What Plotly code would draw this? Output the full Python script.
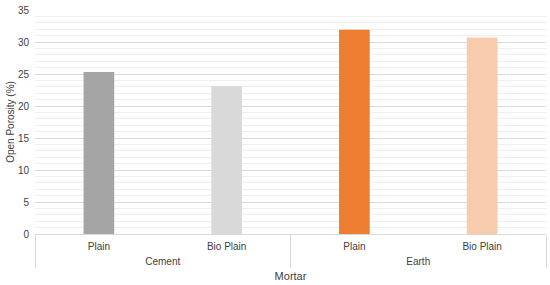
import plotly.graph_objects as go

mortar = ["Cement", "Cement", "Earth", "Earth"]
mix = ["Plain", "Bio Plain", "Plain", "Bio Plain"]
porosity = [25.3, 23.1, 31.9, 30.7]
colors = ["#a5a5a5", "#d9d9d9", "#ed7d31", "#f8cbad"]

keys = [f"{m}|{p}" for m, p in zip(mortar, mix)]
groups = list(dict.fromkeys(mortar))

fig = go.Figure()
fig.add_trace(go.Bar(x=keys, y=porosity, marker=dict(color=colors, line=dict(width=0)),
                     hoverinfo="y"))
fig.add_trace(go.Scatter(x=groups, y=[None] * len(groups), xaxis="x2", mode="markers",
                         showlegend=False, hoverinfo="skip"))

txt = "#404040"
font = dict(family="Liberation Sans, Arial, sans-serif", size=10, color=txt)
fig.update_layout(
    width=550, height=285,
    margin=dict(l=35, r=4, t=10, b=51),
    paper_bgcolor="white", plot_bgcolor="white",
    bargap=0.76, showlegend=False, font=font,
    xaxis=dict(
        type="category", automargin=False, showline=True, linecolor="#d9d9d9", linewidth=1,
        tickmode="array", tickvals=keys, ticktext=mix,
        ticks="", ticklabelstandoff=3, tickfont=dict(size=10, color=txt),
        title=dict(text="Mortar", font=dict(size=11, color=txt), standoff=21),
    ),
    xaxis2=dict(
        type="category", overlaying="x", side="bottom", anchor="y", automargin=False,
        categoryarray=groups, range=[-0.5, len(groups) - 0.5],
        showgrid=False, zeroline=False, showline=False,
        ticks="outside", tickson="boundaries", ticklen=33, tickcolor="#d9d9d9", tickwidth=1,
        ticklabelstandoff=20, tickfont=dict(size=10, color=txt),
    ),
    yaxis=dict(
        automargin=False, range=[0, 35], dtick=5, showgrid=True, gridcolor="#d9d9d9", gridwidth=1,
        minor=dict(dtick=1, showgrid=True, gridcolor="#efefef", gridwidth=1),
        zeroline=False, ticks="", ticklabelstandoff=5, tickfont=dict(size=10, color=txt),
        title=dict(text="Open Porosity (%)", font=dict(size=10, color=txt), standoff=1),
    ),
)
fig.write_html(
    "out.html",
    config={"displayModeBar": False},
    post_script="document.body.style.margin='0';document.body.style.padding='0';",
)
